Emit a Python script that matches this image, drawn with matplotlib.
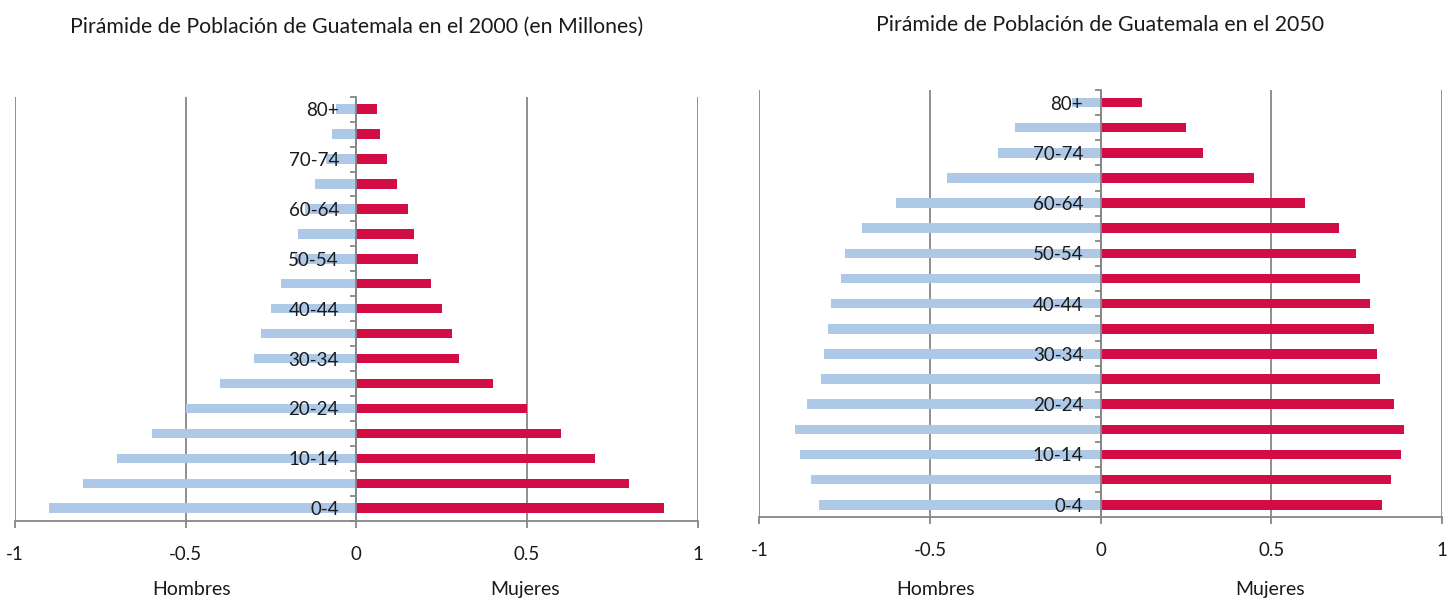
import matplotlib
matplotlib.use("Agg")
import matplotlib.pyplot as plt
import numpy as np

# Age groups, youngest first (bottom of the pyramid)
grupos = ["0-4", "5-9", "10-14", "15-19", "20-24", "25-29", "30-34", "35-39",
          "40-44", "45-49", "50-54", "55-59", "60-64", "65-69", "70-74",
          "75-79", "80+"]

# Population in millions, 2000
hombres_2000 = [0.90, 0.80, 0.70, 0.60, 0.50, 0.40, 0.30, 0.28,
                0.25, 0.22, 0.18, 0.17, 0.15, 0.12, 0.09, 0.07, 0.06]
mujeres_2000 = [0.90, 0.80, 0.70, 0.60, 0.50, 0.40, 0.30, 0.28,
                0.25, 0.22, 0.18, 0.17, 0.15, 0.12, 0.09, 0.07, 0.06]

# Population in millions, 2050
hombres_2050 = [0.825, 0.85, 0.88, 0.895, 0.86, 0.82, 0.81, 0.80,
                0.79, 0.76, 0.75, 0.70, 0.60, 0.45, 0.30, 0.25, 0.085]
mujeres_2050 = [0.825, 0.85, 0.88, 0.89, 0.86, 0.82, 0.81, 0.80,
                0.79, 0.76, 0.75, 0.70, 0.60, 0.45, 0.30, 0.25, 0.12]

titulos = ["Pirámide de Población de Guatemala en el 2000 (en Millones)",
           "Pirámide de Población de Guatemala en el 2050"]
xticks = [-1, -0.5, 0, 0.5, 1]
xtick_labels = ["-1", "-0.5", "0", "0.5", "1"]

AZUL = "#aec9e8"
ROJO = "#d20c44"
GRIS = "#878787"
TEXTO = "#1a1a1a"

plt.rcParams["font.family"] = ["Lato", "DejaVu Sans"]

fig = plt.figure(figsize=(14.55, 5.99), dpi=100)

paneles = [
    ([0.0103, 0.1307, 0.4692, 0.7079], hombres_2000, mujeres_2000, 0.9450),
    ([0.5219, 0.1364, 0.4690, 0.7134], hombres_2050, mujeres_2050, 0.9483),
]

for (rect, hom, muj, ty), titulo in zip(paneles, titulos):
    ax = fig.add_axes(rect)
    y = np.arange(len(grupos))
    ax.barh(y, -np.array(hom), height=0.38, color=AZUL, zorder=1)
    ax.barh(y, muj, height=0.38, color=ROJO, zorder=1)

    ax.set_xlim(-1, 1)
    ax.set_ylim(-0.5, len(grupos) - 0.5)

    ax.set_xticks(xticks)
    ax.set_xticklabels(xtick_labels)
    ax.set_yticks(y[::2])
    ax.set_yticklabels(grupos[::2])
    ax.set_yticks(np.arange(len(grupos) + 1) - 0.5, minor=True)

    ax.spines["top"].set_visible(False)
    ax.spines["right"].set_visible(False)
    ax.spines["left"].set_position(("data", 0))
    for s in ("left", "bottom"):
        ax.spines[s].set_color(GRIS)
        ax.spines[s].set_linewidth(1.3)

    # vertical gridlines sit behind the bars, age labels sit on top of them
    ax.grid(axis="x", color=GRIS, linewidth=1.3)
    ax.grid(axis="y", visible=False)
    ax.xaxis.set_zorder(0.5)
    ax.yaxis.set_zorder(3)

    ax.tick_params(axis="x", direction="out", length=5, width=1.3,
                   color=GRIS, pad=13, labelsize=13.5, labelcolor=TEXTO)
    ax.tick_params(axis="y", which="major", length=0, pad=12.5,
                   labelsize=13.5, labelcolor=TEXTO)
    ax.tick_params(axis="y", which="minor", direction="out", length=4.5,
                   width=1.3, color=GRIS)

    bb = ax.get_position()
    cx = bb.x0 + bb.width / 2
    fig.text(cx, ty, titulo, ha="center", va="baseline", fontsize=15.3,
             color=TEXTO)
    fig.text(bb.x0 + bb.width * 0.25 + 0.004, 0.006, "Hombres", ha="center",
             va="baseline", fontsize=14, color=TEXTO)
    fig.text(bb.x0 + bb.width * 0.75 - 0.001, 0.006, "Mujeres", ha="center",
             va="baseline", fontsize=14, color=TEXTO)

fig.savefig("out.png", dpi=100)
